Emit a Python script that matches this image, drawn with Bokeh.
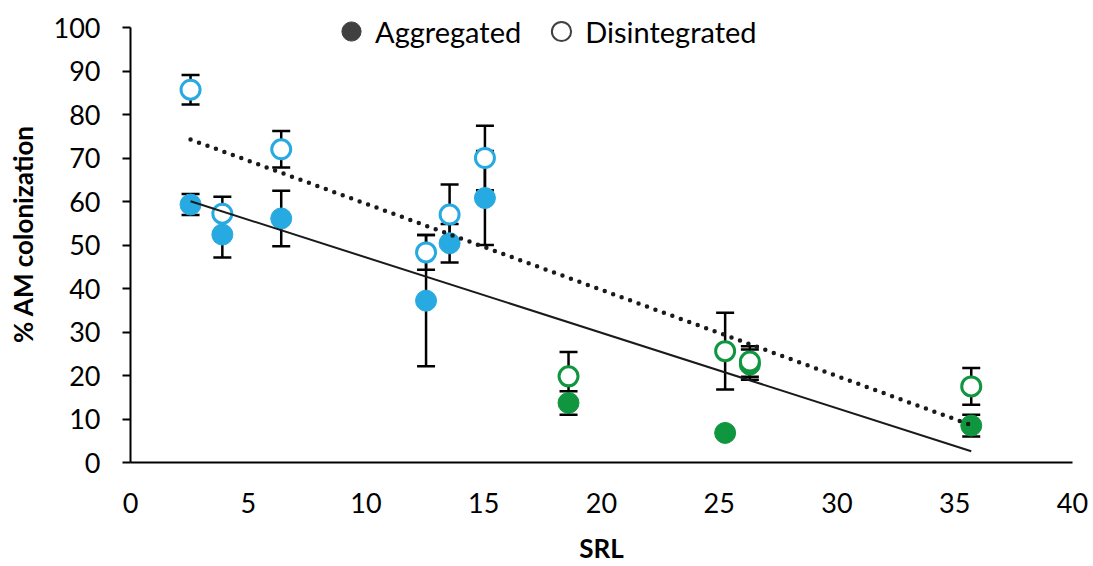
import numpy as np
from bokeh.plotting import figure
from bokeh.models import ColumnDataSource, Whisker, TeeHead, Legend, LegendItem, FixedTicker
from bokeh.embed import file_html
from bokeh.resources import INLINE

# ---- data ----
srl = [2.55, 3.9, 6.4, 12.55, 13.55, 15.05, 18.6, 25.25, 26.3, 35.7]
group = ["blue", "blue", "blue", "blue", "blue", "blue", "green", "green", "green", "green"]
aggregated = [59.3, 52.4, 56.1, 37.2, 50.4, 60.8, 13.7, 6.8, 22.5, 8.5]
aggregated_err = [2.4, 5.3, 6.4, 15.1, 4.4, 10.8, 2.7, 1.0, 3.5, 2.5]
disintegrated = [85.7, 57.2, 72.0, 48.3, 57.0, 70.0, 19.8, 25.6, 23.2, 17.5]
disintegrated_err = [3.4, 3.9, 4.2, 4.0, 6.9, 7.4, 5.6, 8.8, 3.5, 4.2]
x_ticks = [0, 5, 10, 15, 20, 25, 30, 35, 40]
y_ticks = [0, 10, 20, 30, 40, 50, 60, 70, 80, 90, 100]

palette = {"blue": "#27AAE1", "green": "#10963F"}
FONT = "Lato"

TOP = 5
y_top = 100 * (462 - TOP) / (462 - 27)
p = figure(width=1093, height=566, x_range=(0, 40), y_range=(0, y_top),
           output_backend="svg", toolbar_location=None,
           min_border_left=130, min_border_right=21, min_border_top=TOP, min_border_bottom=104)
p.outline_line_color = None
p.xgrid.visible = False
p.ygrid.visible = False
p.background_fill_color = "white"
p.border_fill_color = "white"

x = np.array(srl)
a = np.array(aggregated); ae = np.array(aggregated_err)
d = np.array(disintegrated); de = np.array(disintegrated_err)
cols = [palette[g] for g in group]

src_a = ColumnDataSource(dict(x=x, y=a, lo=a - ae, hi=a + ae, c=cols))
src_d = ColumnDataSource(dict(x=x, y=d, lo=d - de, hi=d + de, c=cols))

for src in (src_a, src_d):
    w = Whisker(source=src, base="x", upper="hi", lower="lo", line_color="black", line_width=2.5,
                upper_head=TeeHead(size=18, line_color="black", line_width=2.5),
                lower_head=TeeHead(size=18, line_color="black", line_width=2.5),
                level="underlay")
    p.add_layout(w)

p.scatter("x", "y", source=src_a, size=21, fill_color="c", line_color="c", line_width=1)
p.scatter("x", "y", source=src_d, size=19, fill_color="white", line_color="c", line_width=3)

# linear trendlines
xs = np.array([x.min(), x.max()])
ka = np.polyfit(x, a, 1)
kd = np.polyfit(x, d, 1)
p.line(xs, np.polyval(ka, xs), line_color="#1a1a1a", line_width=2)
p.line(xs, np.polyval(kd, xs), line_color="#1a1a1a", line_width=4.5, line_dash="0 9", line_cap="round")

# legend proxies (not drawn in the plot, only in the legend)
ra = p.scatter([np.nan], [np.nan], size=21, fill_color="#404040", line_color="#404040")
rd = p.scatter([np.nan], [np.nan], size=19, fill_color="white", line_color="#404040", line_width=2)
leg = Legend(items=[LegendItem(label="Aggregated", renderers=[ra]),
                    LegendItem(label="Disintegrated", renderers=[rd])],
             orientation="horizontal", location=(197, 405), glyph_width=48, glyph_height=52,
             label_standoff=0, spacing=16, padding=0, margin=0,
             border_line_color=None, background_fill_alpha=0,
             label_text_font=FONT, label_text_font_size="29px", label_text_color="black")
p.add_layout(leg)

# axes
for ax in (p.xaxis[0], p.yaxis[0]):
    ax.axis_line_color = "black"
    ax.axis_line_width = 2
    ax.major_label_text_font = FONT
    ax.major_label_text_font_size = "27px"
    ax.major_label_text_color = "black"
    ax.axis_label_text_font = FONT
    ax.axis_label_text_font_size = "26px"
    ax.axis_label_text_font_style = "bold"
    ax.axis_label_text_color = "black"
    ax.minor_tick_line_color = None

p.xaxis.ticker = FixedTicker(ticks=x_ticks)
p.yaxis.ticker = FixedTicker(ticks=y_ticks)
p.yaxis.bounds = (0, 100)
p.xaxis.major_tick_line_color = None
p.xaxis.major_tick_out = 0
p.xaxis.major_tick_in = 0
p.xaxis.major_label_standoff = 30
p.xaxis.axis_label = "SRL"
p.xaxis.axis_label_standoff = 16

p.yaxis.major_tick_out = 8
p.yaxis.major_tick_in = 0
p.yaxis.major_tick_line_width = 2
p.yaxis.major_tick_line_color = "black"
p.yaxis.major_label_standoff = 22
p.yaxis.axis_label = "% AM colonization"
p.yaxis.axis_label_standoff = 12

open("out.html", "w").write(file_html(p, INLINE))
